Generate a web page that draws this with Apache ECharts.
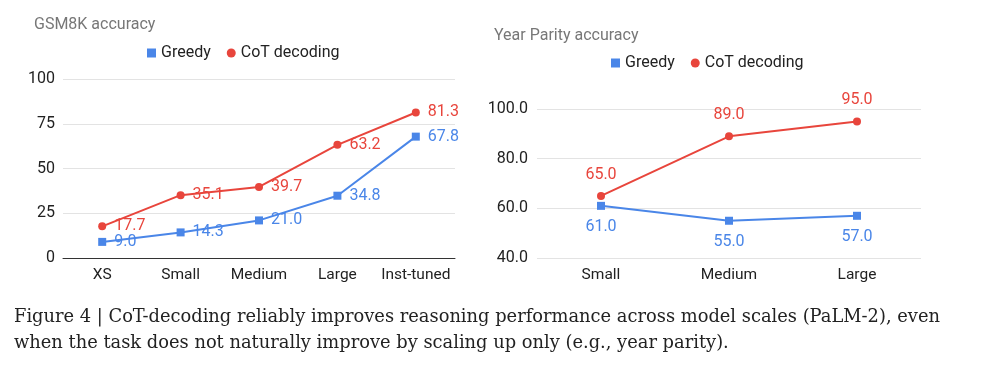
<!DOCTYPE html>
<html><head><meta charset="utf-8">
<script src="https://cdn.jsdelivr.net/npm/echarts@6/dist/echarts.min.js"></script>
<style>html,body{margin:0;padding:0;background:#fff;}#c{width:1008px;height:379px;}</style>
</head><body><div id="c"></div>
<script>
const gsmCategories = ['XS', 'Small', 'Medium', 'Large', 'Inst-tuned'];
const gsmGreedy = [9.0, 14.3, 21.0, 34.8, 67.8];
const gsmCot = [17.7, 35.1, 39.7, 63.2, 81.3];
const yearCategories = ['Small', 'Medium', 'Large'];
const yearGreedy = [61.0, 55.0, 57.0];
const yearCot = [65.0, 89.0, 95.0];
const captionLines = [
  'Figure 4 | CoT-decoding reliably improves reasoning performance across model scales (PaLM-2), even',
  'when the task does not naturally improve by scaling up only (e.g., year parity).'
];

const BLUE = '#4a86e8', RED = '#e8453c';
const FONT = 'Roboto';
const chart = echarts.init(document.getElementById('c'));
const axisLabelStyle = {color: '#222', fontSize: 16, fontFamily: FONT};
const catLabelStyle = {color: '#222', fontSize: 15.5, fontFamily: FONT};
function lab(color, pos, dist) {
  return {show: true, position: pos, distance: dist, color: color, fontSize: 16, fontFamily: FONT,
          formatter: p => p.value.toFixed(1)};
}
const legendStyle = {color: '#222', fontSize: 16, fontFamily: FONT};
chart.setOption({
  animation: false,
  textStyle: {fontFamily: FONT},
  title: [
    {text: 'GSM8K accuracy', left: 29, top: 12, textStyle: {color: '#777', fontSize: 16, fontWeight: 'normal', fontFamily: FONT}},
    {text: 'Year Parity accuracy', left: 489, top: 23, textStyle: {color: '#777', fontSize: 16, fontWeight: 'normal', fontFamily: FONT}}
  ],
  legend: [
    {left: 142, top: 40, itemWidth: 9, itemHeight: 9, itemGap: 16,
     textStyle: legendStyle,
     data: [{name: 'Greedy', icon: 'rect'}, {name: 'CoT decoding', icon: 'circle'}]},
    {left: 606, top: 50, itemWidth: 9, itemHeight: 9, itemGap: 16,
     textStyle: legendStyle,
     data: [{name: 'Greedy', icon: 'rect'}, {name: 'CoT decoding', icon: 'circle'}]}
  ],
  grid: [
    {left: 63, top: 79, width: 392, height: 179},
    {left: 537, top: 109, width: 384, height: 149}
  ],
  xAxis: [
    {type: 'category', gridIndex: 0, data: gsmCategories, boundaryGap: true,
     axisLine: {lineStyle: {color: '#333', width: 1}}, axisTick: {show: false},
     axisLabel: Object.assign({margin: 9, interval: 0}, catLabelStyle)},
    {type: 'category', gridIndex: 1, data: yearCategories, boundaryGap: true,
     axisLine: {show: false}, axisTick: {show: false},
     axisLabel: Object.assign({margin: 9, interval: 0}, catLabelStyle)}
  ],
  yAxis: [
    {type: 'value', gridIndex: 0, min: 0, max: 100, interval: 25,
     axisLine: {show: false}, axisTick: {show: false},
     splitLine: {lineStyle: {color: '#e3e3e3'}},
     axisLabel: Object.assign({margin: 8}, axisLabelStyle)},
    {type: 'value', gridIndex: 1, min: 40, max: 100, interval: 20,
     axisLine: {show: false}, axisTick: {show: false},
     splitLine: {lineStyle: {color: '#e3e3e3'}},
     axisLabel: Object.assign({margin: 9, formatter: v => v.toFixed(1)}, axisLabelStyle)}
  ],
  series: [
    {name: 'Greedy', type: 'line', xAxisIndex: 0, yAxisIndex: 0, data: gsmGreedy,
     symbol: 'rect', symbolSize: 8, itemStyle: {color: BLUE}, lineStyle: {color: BLUE, width: 2},
     label: lab(BLUE, 'right', 8)},
    {name: 'CoT decoding', type: 'line', xAxisIndex: 0, yAxisIndex: 0, data: gsmCot,
     symbol: 'circle', symbolSize: 8, itemStyle: {color: RED}, lineStyle: {color: RED, width: 2},
     label: lab(RED, 'right', 8)},
    {name: 'Greedy', type: 'line', xAxisIndex: 1, yAxisIndex: 1, data: yearGreedy,
     symbol: 'rect', symbolSize: 8, itemStyle: {color: BLUE}, lineStyle: {color: BLUE, width: 2},
     label: lab(BLUE, 'bottom', 9)},
    {name: 'CoT decoding', type: 'line', xAxisIndex: 1, yAxisIndex: 1, data: yearCot,
     symbol: 'circle', symbolSize: 8, itemStyle: {color: RED}, lineStyle: {color: RED, width: 2},
     label: lab(RED, 'top', 9)}
  ],
  graphic: captionLines.map((t, i) => ({
    type: 'text', x: 14, y: 317 + i * 26,
    style: {text: t, font: '17.85px "DejaVu Serif"', fill: '#222', verticalAlign: 'middle'}
  }))
});
</script></body></html>
